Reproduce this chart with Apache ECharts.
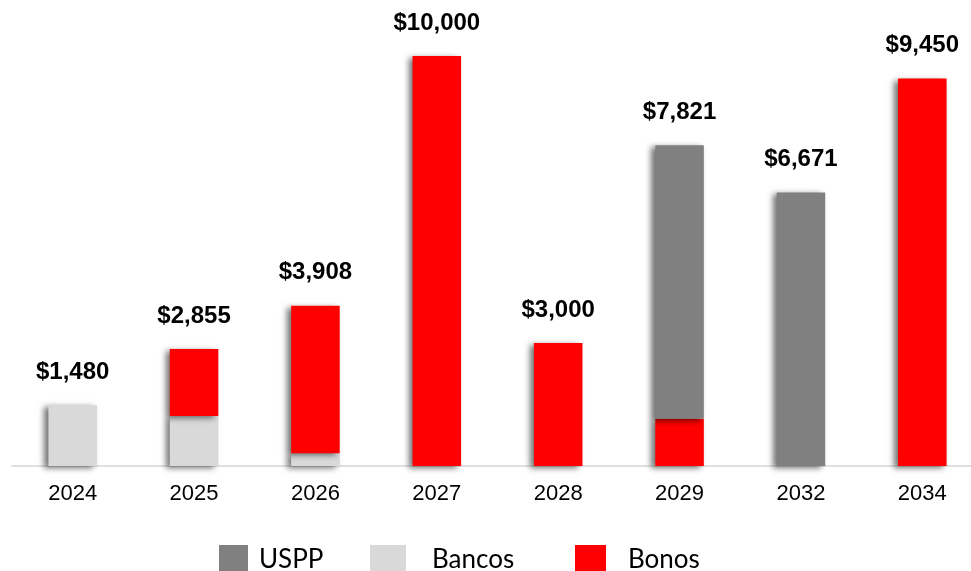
<!DOCTYPE html>
<html>
<head>
<meta charset="utf-8">
<script src="https://cdn.jsdelivr.net/npm/echarts@6/dist/echarts.min.js"></script>
<style>
  html, body { margin: 0; padding: 0; background: #fff; }
  #chart { width: 971px; height: 571px; }
</style>
</head>
<body>
<div id="chart"></div>
<script>
// datos (millones)
var years = ["2024", "2025", "2026", "2027", "2028", "2029", "2032", "2034"];
var bancos = [1480, 1220, 308, 0, 0, 0, 0, 0];
var bonos = [0, 1635, 3600, 10000, 3000, 1150, 0, 9450];
var uspp = [0, 0, 0, 0, 0, 6671, 6671, 0];

var totals = years.map(function(y, i) {
  return bancos[i] + bonos[i] + uspp[i];
});

var barShadow = {
  shadowColor: "rgba(0,0,0,0.55)",
  shadowBlur: 6,
  shadowOffsetX: -4,
  shadowOffsetY: 2
};

function legendItem(name, left, pad, w) {
  return {
    data: [name],
    left: left,
    top: 543,
    padding: 0,
    itemWidth: w,
    itemHeight: 30,
    icon: "rect",
    selectedMode: false,
    textStyle: {
      fontFamily: "Lato",
      fontSize: 26,
      color: "#000",
      backgroundColor: "rgba(255,255,255,0)",
      padding: [8, 0, 0, pad]
    }
  };
}

var chart = echarts.init(document.getElementById("chart"));

var option = {
  animation: false,
  grid: {
    left: 12,
    width: 971,
    top: 56,
    bottom: 105,
    containLabel: false,
    outerBoundsMode: "none"
  },
  legend: [
    legendItem("USPP", 219, 6, 29),
    legendItem("Bancos", 370, 21, 36),
    legendItem("Bonos", 575, 17, 31)
  ],
  xAxis: {
    type: "category",
    data: years,
    axisLine: { lineStyle: { color: "#e0e0e0", width: 2 } },
    axisTick: { show: false },
    axisLabel: {
      margin: 17,
      fontFamily: "Liberation Sans",
      fontSize: 22,
      color: "#000"
    }
  },
  yAxis: {
    type: "value",
    min: 0,
    max: 10000,
    show: false,
    splitLine: { show: false }
  },
  series: [
    {
      name: "Bancos",
      type: "bar",
      stack: "total",
      barWidth: "40%",
      data: bancos,
      itemStyle: Object.assign({ color: "#d9d9d9" }, barShadow)
    },
    {
      name: "Bonos",
      type: "bar",
      stack: "total",
      data: bonos,
      itemStyle: Object.assign({ color: "#ff0000" }, barShadow)
    },
    {
      name: "USPP",
      type: "bar",
      stack: "total",
      data: uspp,
      itemStyle: Object.assign({ color: "#808080" }, barShadow)
    },
    {
      // etiqueta del total
      name: "Total",
      type: "bar",
      barGap: "-100%",
      barWidth: "40%",
      data: totals,
      z: 1,
      silent: true,
      itemStyle: { color: "rgba(0,0,0,0)" },
      label: {
        show: true,
        position: "top",
        distance: 21,
        fontFamily: "Liberation Sans",
        fontWeight: "bold",
        fontSize: 24,
        color: "#000",
        formatter: function(p) {
          return "$" + p.value.toLocaleString("en-US");
        }
      }
    }
  ]
};

chart.setOption(option);
</script>
</body>
</html>
